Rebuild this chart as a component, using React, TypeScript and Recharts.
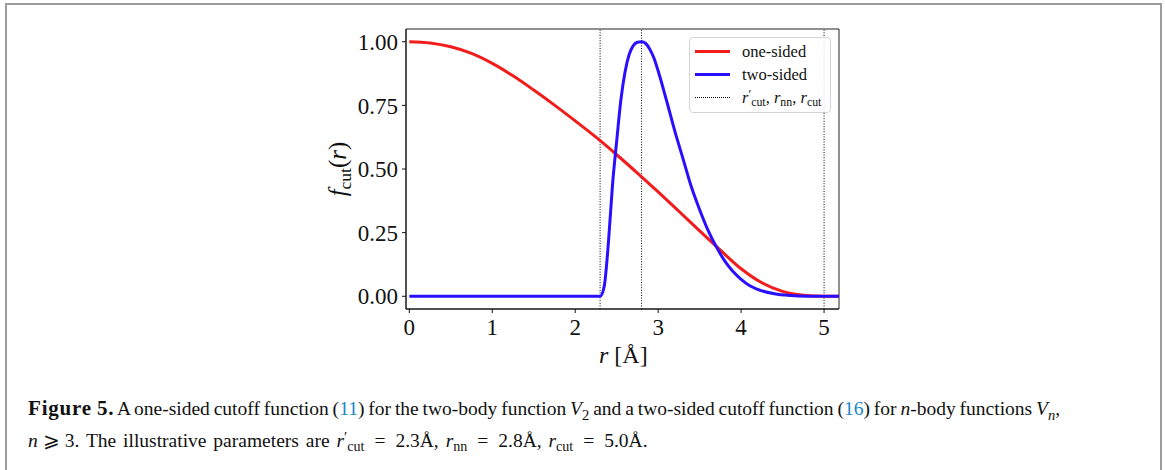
import React from "react";
import { LineChart, Line, XAxis, YAxis, ReferenceLine, ReferenceArea } from "recharts";

// one-sided cutoff
const rOne = [0, 0.25, 0.5, 0.75, 1, 1.25, 1.5, 1.75, 2, 2.25, 2.5, 2.75, 3, 3.25, 3.5, 3.75, 4, 4.25, 4.5, 4.75, 5, 5.2];
const oneSided = [1, 0.995, 0.98, 0.954, 0.915, 0.866, 0.81, 0.751, 0.689, 0.625, 0.556, 0.484, 0.41, 0.334, 0.257, 0.181, 0.108, 0.053, 0.019, 0.004, 0, 0];

// two-sided cutoff
const rTwo = [0, 0.5, 1, 1.5, 2, 2.3, 2.35, 2.4, 2.45, 2.5, 2.55, 2.6, 2.65, 2.7, 2.75, 2.8, 2.85, 2.9, 2.95, 3.0, 3.1, 3.2, 3.3, 3.4, 3.5, 3.6, 3.7, 3.8, 3.9, 4.0, 4.1, 4.2, 4.4, 4.6, 4.8, 5.0, 5.2];
const twoSided = [0, 0, 0, 0, 0, 0, 0.04, 0.21, 0.44, 0.61, 0.77, 0.88, 0.95, 0.985, 0.998, 1.0, 0.993, 0.97, 0.935, 0.885, 0.77, 0.65, 0.54, 0.43, 0.34, 0.26, 0.195, 0.14, 0.098, 0.066, 0.042, 0.027, 0.01, 0.003, 0.0005, 0, 0];

const cutLines = [2.3, 2.8, 5.0];
const xTicks = [0, 1, 2, 3, 4, 5];
const yTicks = [0, 0.25, 0.5, 0.75, 1];
const xDomain = [-0.04, 5.18];
const yDomain = [-0.05, 1.05];

const oneData = rOne.map((r, i) => ({ r, f: oneSided[i] }));
const twoData = rTwo.map((r, i) => ({ r, f: twoSided[i] }));

const RED = "#f21c1c";
const BLUE = "#2a0fff";
const LINK = "#1a88c8";
const serif = '"Liberation Serif", "DejaVu Serif", serif';
const tickStyle = { fontFamily: serif, fontSize: 23, fill: "#111" };

// r with subscript, optional prime
const Rsub = ({ sub, prime }: { sub: string; prime?: boolean }) => (
	<span style={{ whiteSpace: "nowrap" }}>
		<i>r</i>
		{prime && <span style={{ fontSize: "0.75em", position: "relative", top: "-0.35em" }}>′</span>}
		<span style={{ fontSize: "0.72em", position: "relative", top: "0.3em" }}>{sub}</span>
	</span>
);

const Eq = () => <span style={{ margin: "0 10px" }}>=</span>;

const LegendRow = ({ color, dotted, children }: { color: string; dotted?: boolean; children: React.ReactNode }) => (
	<div style={{ display: "flex", alignItems: "center", height: 23 }}>
		<div
			style={{
				width: 35,
				marginLeft: 5,
				marginRight: 12,
				borderTop: dotted ? "1px dotted #000" : `3px solid ${color}`,
			}}
		/>
		<div style={{ fontSize: 16.5, color: "#111" }}>{children}</div>
	</div>
);

const App = () => (
	<div style={{ position: "absolute", left: 0, top: 0, width: 1165, height: 470, background: "#fff", overflow: "hidden", fontFamily: serif }}>
		<div
			style={{
				position: "absolute",
				left: 5,
				top: 3,
				width: 1157,
				height: 490,
				boxSizing: "border-box",
				border: "2px solid #9c9c9c",
			}}
		/>
		<div style={{ position: "absolute", left: 0, top: 0 }}>
			<LineChart width={1165} height={470} margin={{ top: 29, right: 326, bottom: 131, left: 326 }}>
				<XAxis
					dataKey="r"
					type="number"
					domain={xDomain}
					allowDataOverflow
					ticks={xTicks}
					tickSize={4}
					tickMargin={6}
					height={30}
					stroke="#111"
					tick={tickStyle}
				/>
				<YAxis
					type="number"
					domain={yDomain}
					allowDataOverflow
					ticks={yTicks}
					tickFormatter={(v: number) => v.toFixed(2)}
					tickSize={4}
					tickMargin={4}
					width={80}
					stroke="#111"
					tick={tickStyle}
				/>
				<ReferenceArea x1={xDomain[0]} x2={xDomain[1]} y1={yDomain[0]} y2={yDomain[1]} fill="none" stroke="#222" strokeWidth={1} />
				{cutLines.map((x) => (
					<ReferenceLine key={x} x={x} stroke="#000" strokeWidth={1} strokeDasharray="1 1.6" />
				))}
				<Line data={oneData} dataKey="f" type="monotone" stroke={RED} strokeWidth={3} dot={false} isAnimationActive={false} />
				<Line data={twoData} dataKey="f" type="monotone" stroke={BLUE} strokeWidth={3} dot={false} isAnimationActive={false} />
			</LineChart>
		</div>

		{/* legend */}
		<div
			style={{
				position: "absolute",
				left: 689,
				top: 37,
				width: 142,
				height: 76,
				boxSizing: "border-box",
				border: "1px solid #d4d4d4",
				borderRadius: 4,
				background: "rgba(255,255,255,0.85)",
				paddingTop: 2,
			}}
		>
			<LegendRow color={RED}>one-sided</LegendRow>
			<LegendRow color={BLUE}>two-sided</LegendRow>
			<LegendRow color="#000" dotted>
				<Rsub sub="cut" prime />, <Rsub sub="nn" />, <Rsub sub="cut" />
			</LegendRow>
		</div>

		{/* axis labels */}
		<div style={{ position: "absolute", left: 599, top: 342, fontSize: 24, color: "#111", whiteSpace: "nowrap" }}>
			<i>r</i> [Å]
		</div>
		<div
			style={{
				position: "absolute",
				left: 338,
				top: 169,
				fontSize: 25,
				color: "#111",
				whiteSpace: "nowrap",
				transform: "translate(-50%, -50%) rotate(-90deg)",
			}}
		>
			<i>f</i>
			<span style={{ fontSize: "0.7em", position: "relative", top: "0.3em" }}>cut</span>(<i>r</i>)
		</div>

		{/* caption */}
		<div
			style={{
				position: "absolute",
				left: 28,
				top: 396,
				fontSize: 19.5,
				lineHeight: "25px",
				color: "#111",
				whiteSpace: "nowrap",
			}}
		>
			<div style={{ wordSpacing: -1 }}>
				<b style={{ fontSize: 21, letterSpacing: 0.8 }}>Figure 5.</b> A one-sided cutoff function (<span style={{ color: LINK }}>11</span>) for the
				two-body function <i>V</i>
				<sub style={{ fontSize: "0.75em" }}>2</sub> and a two-sided cutoff function (<span style={{ color: LINK }}>16</span>) for <i>n</i>-body functions{" "}
				<i>V</i>
				<sub style={{ fontSize: "0.75em" }}>
					<i>n</i>
				</sub>
				,
			</div>
			<div style={{ wordSpacing: 2 }}>
				<i>n</i>
				<span style={{ margin: "0 5px" }}>⩾</span>3. The illustrative parameters are <Rsub sub="cut" prime />
				<Eq />
				2.3Å, <Rsub sub="nn" />
				<Eq />
				2.8Å, <Rsub sub="cut" />
				<Eq />
				5.0Å.
			</div>
		</div>
	</div>
);

export default App;
